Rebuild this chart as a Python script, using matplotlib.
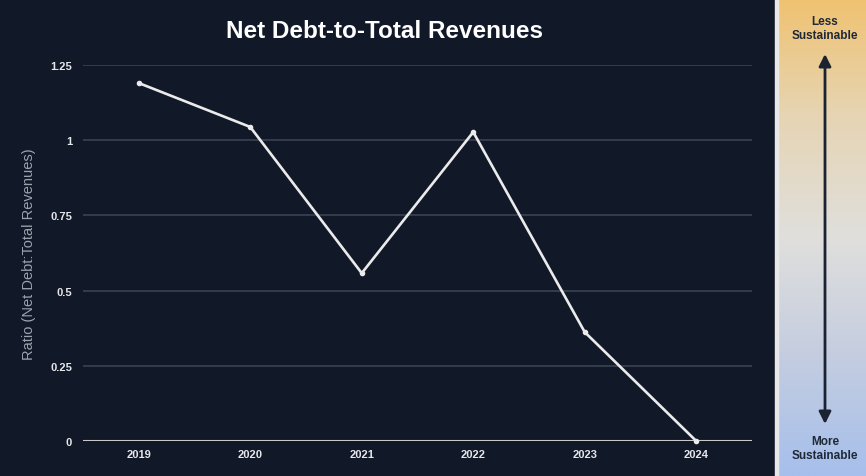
import matplotlib
matplotlib.use("Agg")
import matplotlib.pyplot as plt
import numpy as np
from matplotlib.colors import LinearSegmentedColormap

years = ["2019", "2020", "2021", "2022", "2023", "2024"]
ratios = [1.19, 1.044, 0.558, 1.027, 0.362, 0.0]
yticks = [0, 0.25, 0.5, 0.75, 1, 1.25]
ytick_labels = ["0", "0.25", "0.5", "0.75", "1", "1.25"]

plt.rcParams['font.family'] = ['Liberation Sans', 'DejaVu Sans']

W, H = 866, 477
fig = plt.figure(figsize=(W/100, H/100), dpi=100)
bg = "#111827"
fig.patch.set_facecolor(bg)

# main axes
ax = fig.add_axes([83/W, 1-442/H, (752-83)/W, (442-66)/H])
ax.set_facecolor(bg)
x = np.arange(len(years))
ax.plot(x, ratios, color="#ebebeb", lw=1.9, marker="o", ms=3, zorder=3, clip_on=False)
ax.set_xlim(-0.5, len(years)-0.5)
ax.set_ylim(0, 1.25)
ax.set_yticks(yticks)
ax.set_yticklabels(ytick_labels)
ax.set_xticks(x)
ax.set_xticklabels(years)
for s in ax.spines.values():
    s.set_visible(False)
ax.grid(axis="y", color="#3b4252", lw=1.2)
ax.axhline(0, color="#c8c8c8", lw=1.5, zorder=2)
ax.tick_params(axis="both", length=0, colors="#e5e7eb", labelsize=8)
for lab in ax.get_xticklabels() + ax.get_yticklabels():
    lab.set_fontweight("bold")
ax.tick_params(axis="y", pad=8)
ax.tick_params(axis="x", pad=6)
ax.set_ylabel("Ratio (Net Debt:Total Revenues)", color="#9ca3af", fontsize=10.5, labelpad=10)
fig.text(385/W, 1-31/H, "Net Debt-to-Total Revenues", color="white", fontsize=17.5,
         fontweight="bold", ha="center", va="center")

# separator
fig.add_artist(plt.Rectangle((775/W, 0), 3/W, 1, transform=fig.transFigure,
                             color="#e8e8e8", zorder=1))

# gradient panel
gax = fig.add_axes([778/W, 0, (W-778)/W, 1])
cmap = LinearSegmentedColormap.from_list("g", ["#f0c272", "#e6d5b5", "#e0dfdc", "#c4cde0", "#a6bfec"])
grad = np.linspace(0, 1, 256).reshape(-1, 1)
gax.imshow(grad, aspect="auto", cmap=cmap, extent=[0, 1, 0, 1], origin="upper")
gax.set_xlim(0, 1); gax.set_ylim(0, 1)
gax.axis("off")
ax_c = (825-778)/(W-778)
gax.annotate("", xy=(ax_c, 1-55/H), xytext=(ax_c, 1-425/H),
             arrowprops=dict(arrowstyle="<|-|>", color="#1b2232", lw=2, mutation_scale=18,
                             shrinkA=0, shrinkB=0))
gax.text(ax_c, 1-29/H, "Less\nSustainable", ha="center", va="center", fontsize=8.5,
         fontweight="bold", color="#1f2937", linespacing=1.2)
gax.text(ax_c, 1-449/H, "More\nSustainable", ha="center", va="center", fontsize=8.5,
         fontweight="bold", color="#1f2937", linespacing=1.2)

fig.savefig("out.png", dpi=100, facecolor=bg)
